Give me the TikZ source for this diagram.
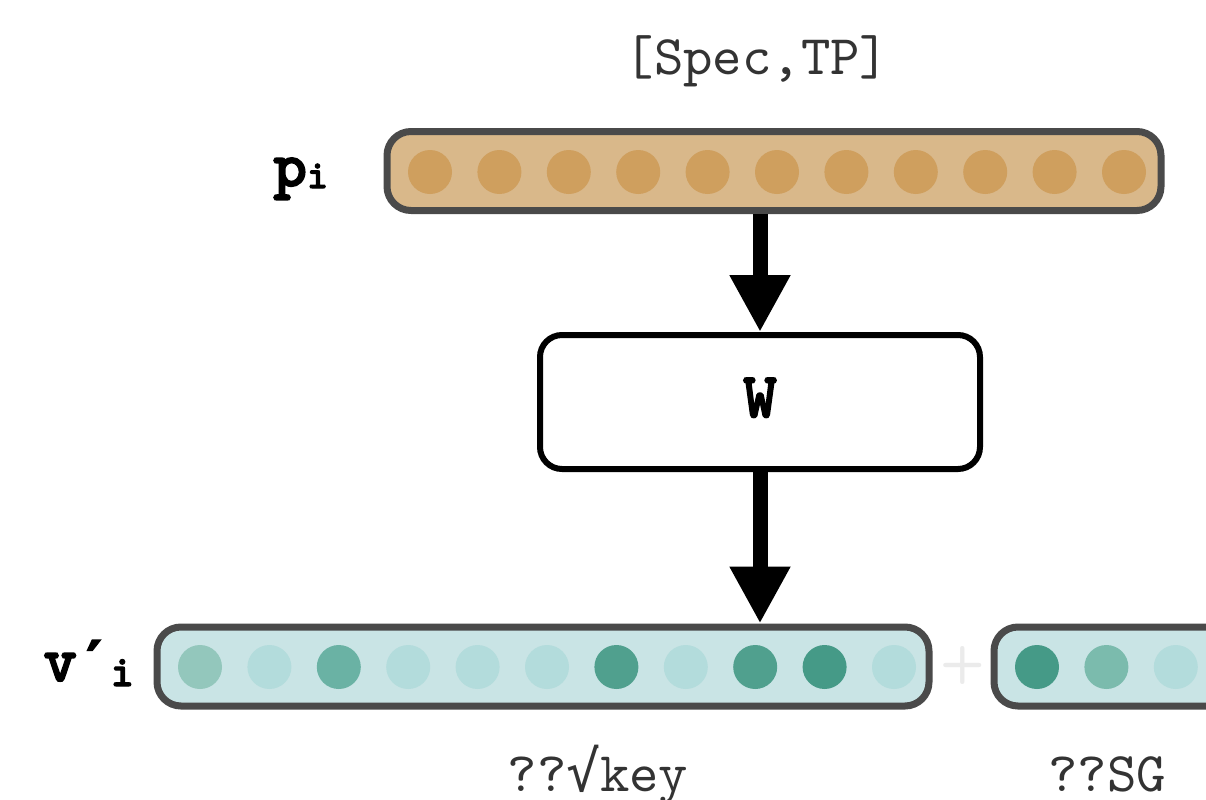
\documentclass[tikz,border=0pt]{standalone}
\usepackage{fontspec}
\usetikzlibrary{arrows.meta}
% typewriter faces: thin regular and a heavy bold for the symbols
\newfontfamily\monoreg{lmmono10-regular.otf}
\newfontfamily\monoheavy[FakeBold=2.5]{lmmonolt10-bold.otf}
\newfontfamily\monosym{DejaVu Sans Mono}
\newfontfamily\primefont[FakeBold=3]{DejaVu Sans Mono}

\definecolor{barline}{HTML}{4A4A4A}
\definecolor{pfill}{HTML}{D9B88A}
\definecolor{pdot}{HTML}{CF9F5E}
\definecolor{vfill}{HTML}{C9E4E5}
\definecolor{vlight}{HTML}{B3DCDC}
\definecolor{vmidlight}{HTML}{93C7BC}
\definecolor{vmid}{HTML}{7BBBAD}
\definecolor{vmiddark}{HTML}{6AB2A4}
\definecolor{vdark}{HTML}{50A08E}
\definecolor{vdarker}{HTML}{459A87}
\definecolor{plusgray}{HTML}{EBEBEB}
\definecolor{textgray}{HTML}{333333}

\begin{document}
\begin{tikzpicture}[x=0.5pt,y=-0.5pt,
  vecbar/.style={draw=barline, line width=3.5pt, rounded corners=12pt,
    minimum height=39.5pt, inner sep=0pt},
  wstage/.style={draw=black, fill=white, line width=3pt, rounded corners=11pt,
    minimum width=220pt, minimum height=67pt, inner sep=0pt},
  bigarrow/.style={line width=7.5pt, -{Triangle[width=28.5pt,length=28.5pt]}},
  plainlabel/.style={text=textgray, inner sep=0pt, anchor=base,
    font=\monoreg\fontsize{28}{30}\selectfont},
  heavylabel/.style={text=black, inner sep=0pt, anchor=base west,
    font=\monoheavy\fontsize{32}{34}\selectfont},
  dot/.style={radius=11pt}]
\useasboundingbox (0,0) rectangle (1206,799);
\clip (0,0) rectangle (1206,799);

% embedding p_i
\node[vecbar, fill=pfill, minimum width=387pt] (pbar) at (774,171) {};
\foreach \k in {0,...,10}
  \fill[pdot] (430+69.4*\k,172) circle[dot];

% projection W
\node[wstage] (wbox) at (760,402) {};
\node[heavylabel, anchor=base] (wlabel) at (760,417) {W};

% output v'_i
\node[vecbar, fill=vfill, minimum width=386pt] (vbar) at (543,666.5) {};
\foreach \c [count=\k from 0] in {vmidlight,vlight,vmiddark,vlight,vlight,vlight,vdark,vlight,vdark,vdarker,vlight}
  \fill[\c] (200+69.4*\k,667) circle[dot];

% the following vector, running off to the right
\node[vecbar, fill=vfill, minimum width=160pt] (sgbar) at (1154,666.5) {};
\foreach \c [count=\k from 0] in {vdarker,vmid,vlight,vlight}
  \fill[\c] (1037+69.4*\k,667) circle[dot];

% faint plus between the two vectors
\node[text=plusgray, inner sep=0pt, font=\sffamily\fontsize{26}{26}\selectfont\bfseries] (plus) at (963,665) {+};

% arrows
\draw[bigarrow] (pbar.south -| wbox.north) -- (wbox.north);
\draw[bigarrow] (wbox.south) -- (vbar.north -| wbox.south);

% labels
\node[plainlabel] (spec) at (757,74) {[Spec,TP]};
\node[plainlabel] (key) at (598,791) {??{\monosym √}key};
\node[plainlabel] (sg) at (1107,791) {??SG};
\node[heavylabel] (plab) at (273,186) {p\raisebox{-1pt}{\fontsize{20}{20}\selectfont i}};
\node[heavylabel] (vlab) at (43,681) {v{\primefont\bfseries\fontsize{28}{28}\selectfont ′}\raisebox{-2.5pt}{\fontsize{22}{22}\selectfont i}};
\end{tikzpicture}
\end{document}
